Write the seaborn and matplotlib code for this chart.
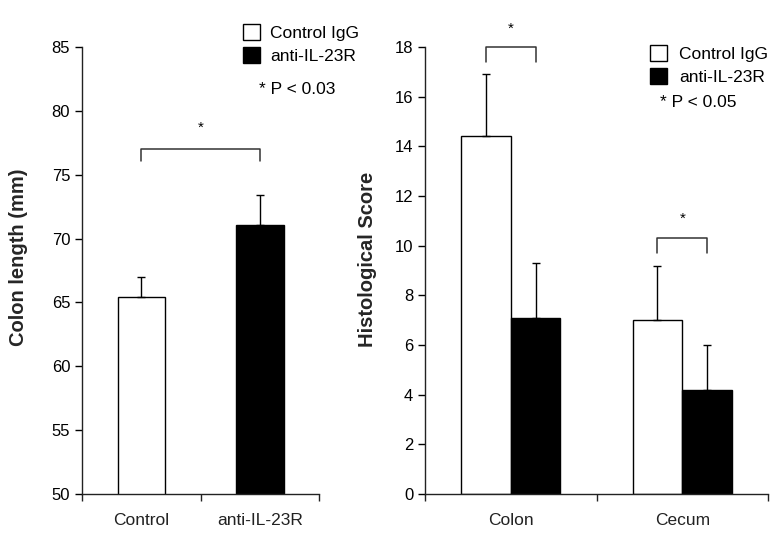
import numpy as np
import pandas as pd
import seaborn as sns
import matplotlib as mpl
from matplotlib import pyplot as plt
from matplotlib.patches import Patch

# left panel: colon length
len_groups = ['Control', 'anti-IL-23R']
len_mean = [65.4, 71.1]
len_err = [1.6, 2.3]

# right panel: histological score
sites = ['Colon', 'Cecum']
treatments = ['Control IgG', 'anti-IL-23R']
score_ctrl = [14.4, 7.0]
score_ctrl_err = [2.5, 2.2]
score_anti = [7.1, 4.2]
score_anti_err = [2.2, 1.8]

sns.set_theme(style="ticks", rc={
    "axes.linewidth": 1.0,
    "xtick.major.width": 1.0,
    "ytick.major.width": 1.0,
    "xtick.minor.width": 1.0,
    "ytick.major.size": 5,
    "xtick.labelsize": 12.5,
    "ytick.labelsize": 12,
    "axes.edgecolor": "#222222",
    "xtick.color": "#222222",
    "ytick.color": "black",
    "text.color": "black",
})
plt.rcParams['font.family'] = ['Liberation Sans', 'DejaVu Sans']

colors = {'Control IgG': 'white', 'anti-IL-23R': 'black'}

fig = plt.figure(figsize=(7.76, 5.46), dpi=100)
ax1 = fig.add_axes([0.1057, 0.0952, 0.306, 0.8187])
ax2 = fig.add_axes([0.5477, 0.0952, 0.442, 0.8187])


def add_errors(ax, errs):
    for patch, err in zip(ax.patches, errs):
        xc = patch.get_x() + patch.get_width() / 2
        top = patch.get_height() + patch.get_y()
        ax.errorbar(xc, top, yerr=[[0], [err]], fmt='none', ecolor='black',
                    elinewidth=1, capsize=2.6, capthick=1)


def bracket(ax, x0, x1, y, drop, star_y):
    ax.plot([x0, x0, x1, x1], [y - drop, y, y, y - drop], color='#333333',
            lw=1.1, clip_on=False)
    ax.text((x0 + x1) / 2, star_y, '*', ha='center', va='center', fontsize=11,
            clip_on=False)


def style_axis(ax):
    sns.despine(ax=ax)
    ax.set_xlim(-0.5, 1.5)
    ax.tick_params(axis='x', which='major', length=0, pad=14)
    ax.set_xticks([-0.5, 0.5, 1.5], minor=True)
    ax.tick_params(axis='x', which='minor', length=5, direction='out')
    ax.set_xlabel('')


def add_legend(ax, x, y, pad):
    ax.legend(handles=[Patch(facecolor=colors[t], edgecolor='black', label=t)
                       for t in treatments],
              loc='upper left', bbox_to_anchor=(x, y), frameon=False,
              fontsize=12.5, handlelength=0.95, handleheight=1.05,
              handletextpad=pad, labelspacing=0.35, borderpad=0,
              borderaxespad=0)


# ---- left panel
df_len = pd.DataFrame({'group': len_groups, 'length': len_mean,
                       'hue': treatments})
sns.barplot(ax=ax1, data=df_len, x='group', y='length', hue='hue',
            palette=colors, edgecolor='black', linewidth=1, width=0.4,
            dodge=False, legend=False)
ax1.set_ylim(50, 85)
ax1.set_yticks(np.arange(50, 86, 5))
style_axis(ax1)
add_errors(ax1, len_err)
ax1.set_ylabel('Colon length (mm)', fontsize=14.5, fontweight='bold')
ax1.yaxis.set_label_coords(-0.227, 0.53)
bracket(ax1, 0, 1, 77.0, 0.9, 78.7)
add_legend(ax1, 0.678, 1.051, 0.63)
ax1.text(0.745, 0.904, '* P < 0.03', transform=ax1.transAxes, fontsize=12.5,
         ha='left', va='center')

# ---- right panel
df_score = pd.DataFrame({
    'site': sites * 2,
    'treatment': [treatments[0]] * 2 + [treatments[1]] * 2,
    'score': score_ctrl + score_anti,
})
sns.barplot(ax=ax2, data=df_score, x='site', y='score', hue='treatment',
            palette=colors, edgecolor='black', linewidth=1, width=0.58,
            legend=False)
ax2.set_ylim(0, 18)
ax2.set_yticks(np.arange(0, 19, 2))
style_axis(ax2)
add_errors(ax2, score_ctrl_err + score_anti_err)
ax2.set_ylabel('Histological Score', fontsize=14.5, fontweight='bold')
ax2.yaxis.set_label_coords(-0.14, 0.525)
p = ax2.patches
cx = [b.get_x() + b.get_width() / 2 for b in p]
bracket(ax2, cx[0], cx[2], 18.0, 0.6, 18.75)
bracket(ax2, cx[1], cx[3], 10.3, 0.6, 11.1)
add_legend(ax2, 0.656, 1.004, 0.72)
ax2.text(0.685, 0.875, '* P < 0.05', transform=ax2.transAxes, fontsize=12.5,
         ha='left', va='center')

fig.savefig('out.png', dpi=100)
